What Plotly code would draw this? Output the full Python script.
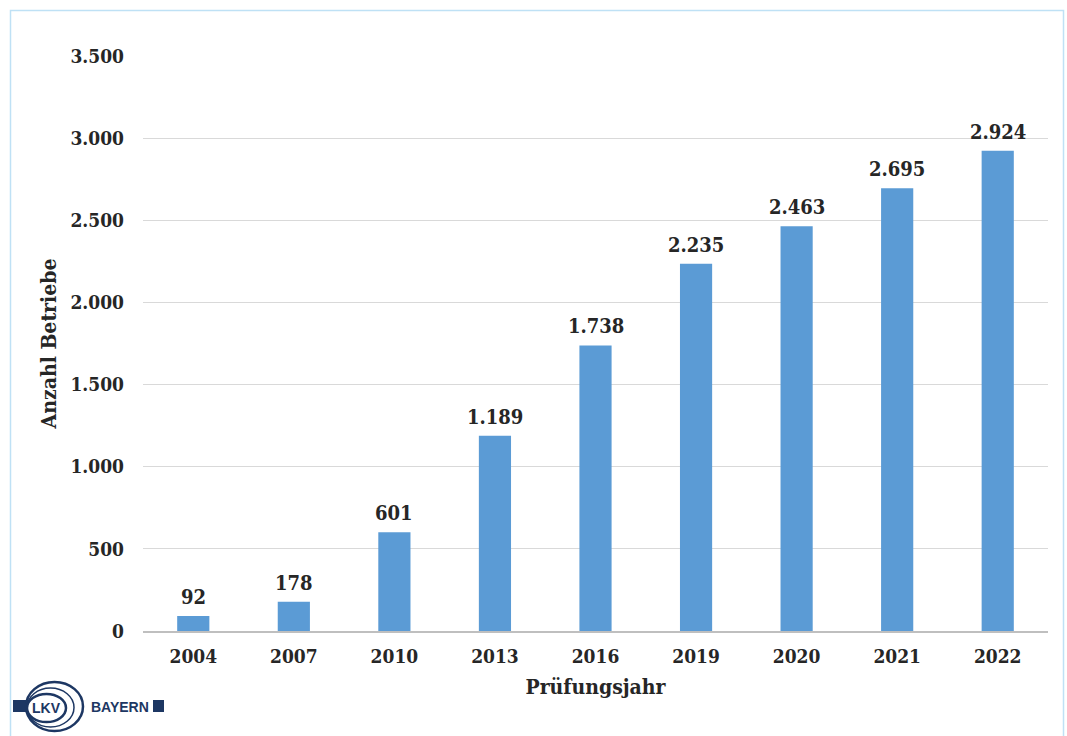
import plotly.graph_objects as go

# Prüfungsjahre und Anzahl der Betriebe
jahre = ["2004", "2007", "2010", "2013", "2016", "2019", "2020", "2021", "2022"]
betriebe = [92, 178, 601, 1189, 1738, 2235, 2463, 2695, 2924]
y_ticks = [0, 500, 1000, 1500, 2000, 2500, 3000, 3500]
y_ticktext = ["0", "500", "1.000", "1.500", "2.000", "2.500", "3.000", "3.500"]

W, H = 1067, 736
L, R, T, B = 143, 1048, 56, 631  # plot area in pixels

def px(x):
    return (x - L) / (R - L)

def py(y):
    return (B - y) / (B - T)

FONT = "DejaVu Serif Condensed, DejaVu Serif"
TXT = "#262626"
NAVY = "#1d3763"

def fmt(v):
    return f"{v:,}".replace(",", ".")

fig = go.Figure(
    go.Bar(
        x=jahre,
        y=betriebe,
        marker=dict(color="#5b9bd5", line=dict(width=0)),
        hoverinfo="x+y",
    )
)

# value labels above the bars (category positions by index)
value_labels = [
    dict(text=f"<b>{fmt(v)}</b>", x=i, y=v, xref="x", yref="y",
         xanchor="center", yanchor="bottom", yshift=5, showarrow=False,
         font=dict(family=FONT, size=20, color=TXT))
    for i, v in enumerate(betriebe)
]

shapes = [
    # outer frame
    dict(type="rect", xref="paper", yref="paper",
         x0=px(10.5), x1=px(1063.5), y0=py(745), y1=py(10.5),
         line=dict(color="#bfe1f5", width=1.5), layer="below"),
    # logo: left bar
    dict(type="rect", xref="paper", yref="paper",
         x0=px(13), x1=px(29), y0=py(712), y1=py(700),
         fillcolor=NAVY, line=dict(width=0)),
    # logo: outer rings
    dict(type="circle", xref="paper", yref="paper",
         x0=px(26), x1=px(83), y0=py(731), y1=py(682),
         line=dict(color=NAVY, width=2.5)),
    dict(type="circle", xref="paper", yref="paper",
         x0=px(27), x1=px(74), y0=py(727), y1=py(688),
         line=dict(color=NAVY, width=1.5)),
    dict(type="circle", xref="paper", yref="paper",
         x0=px(27), x1=px(66), y0=py(722), y1=py(694),
         fillcolor="white", line=dict(color=NAVY, width=2.5)),
    # logo: right square
    dict(type="rect", xref="paper", yref="paper",
         x0=px(153), x1=px(164), y0=py(712), y1=py(700),
         fillcolor=NAVY, line=dict(width=0)),
]

logo_text = [
    dict(text="<b>LKV</b>", xref="paper", yref="paper",
         x=px(46.5), y=py(708), xanchor="center", yanchor="middle",
         showarrow=False,
         font=dict(family="Liberation Sans", size=14, color=NAVY)),
    dict(text="<b>BAYERN</b>", xref="paper", yref="paper",
         x=px(119.5), y=py(707), xanchor="center", yanchor="middle",
         showarrow=False,
         font=dict(family="Liberation Sans", size=14, color=NAVY)),
]

fig.update_layout(
    width=W, height=H,
    margin=dict(l=L, r=W - R, t=T, b=H - B),
    paper_bgcolor="white", plot_bgcolor="white",
    showlegend=False,
    bargap=0.68,
    shapes=shapes,
    annotations=value_labels + logo_text,
    font=dict(family=FONT, color=TXT),
    xaxis=dict(
        type="category",
        categoryorder="array", categoryarray=jahre,
        tickvals=jahre,
        ticktext=[f"<b>{j}</b>" for j in jahre],
        range=[-0.5, len(jahre) - 0.5],
        showline=True, linecolor="#bfbfbf", linewidth=1.5,
        ticks="", showgrid=False,
        ticklabelstandoff=7,
        tickfont=dict(family=FONT, size=19, color=TXT),
        title=dict(text="<b>Prüfungsjahr</b>", standoff=14,
                   font=dict(family=FONT, size=21, color=TXT)),
    ),
    yaxis=dict(
        range=[0, 3500],
        tickvals=y_ticks,
        ticktext=[f"<b>{t}</b>" for t in y_ticktext],
        showgrid=True, gridcolor="#d9d9d9", gridwidth=1,
        zeroline=False, showline=False, ticks="",
        ticklabelstandoff=18,
        tickfont=dict(family=FONT, size=19, color=TXT),
        title=dict(text="<b>Anzahl Betriebe</b>", standoff=8,
                   font=dict(family=FONT, size=21, color=TXT)),
    ),
)

fig.write_html("out.html")
